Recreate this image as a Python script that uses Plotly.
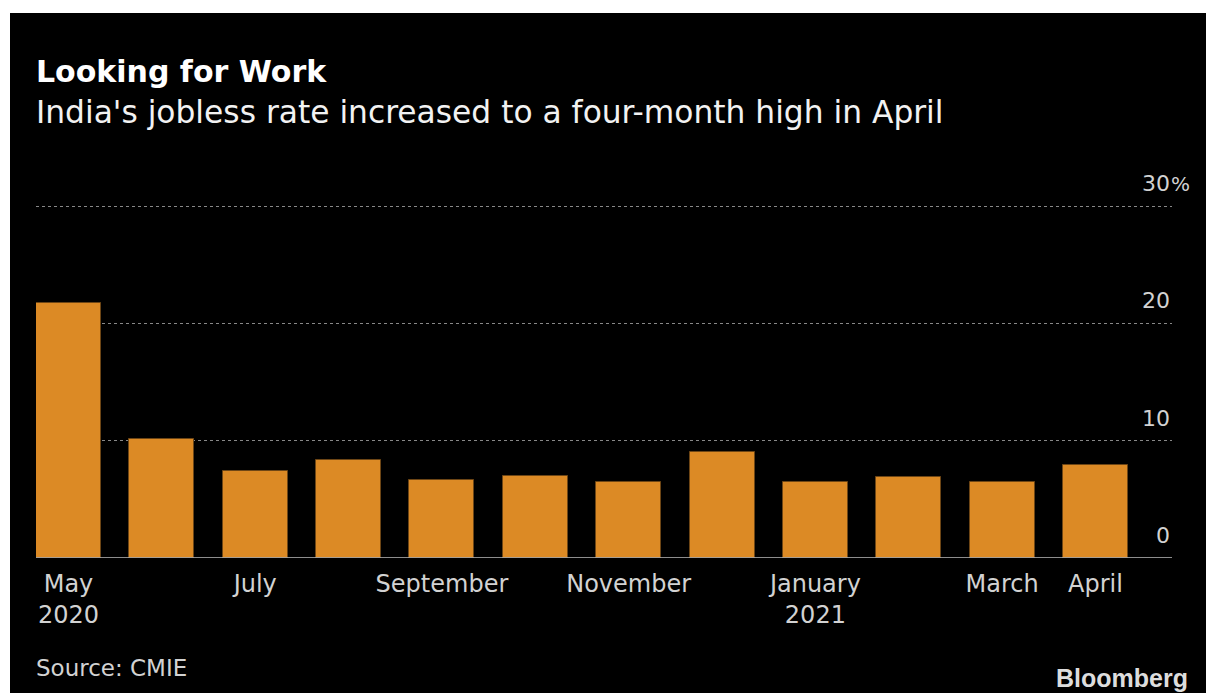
import plotly.graph_objects as go

# Monthly unemployment rate in India (%), May 2020 - April 2021
months = ["May 2020", "Jun 2020", "Jul 2020", "Aug 2020", "Sep 2020", "Oct 2020",
          "Nov 2020", "Dec 2020", "Jan 2021", "Feb 2021", "Mar 2021", "Apr 2021"]
jobless_rate = [21.73, 10.18, 7.40, 8.35, 6.67, 6.98, 6.50, 9.06, 6.52, 6.89, 6.50, 7.97]

tick_positions = [0, 2, 4, 6, 8, 10, 11]
tick_labels = ["May<br>2020", "July", "September", "November", "January<br>2021", "March", "April"]

y_ticks = [0, 10, 20, 30]
y_tick_labels = ["0", "10", "20", "30"]

W, H = 1206, 693
M_L, M_R, M_T, M_B = 36, 34, 205, 135
PLOT_W = W - M_L - M_R
PLOT_H = H - M_T - M_B


def px_x(px):
    return (px - M_L) / PLOT_W


def px_y(py):
    return (H - M_B - py) / PLOT_H


FONT = "DejaVu Sans"
LABEL_GREY = "#d2d2d2"

fig = go.Figure(
    go.Bar(
        x=list(range(len(months))),
        y=jobless_rate,
        width=0.696,
        marker=dict(color="#dc8a25", line=dict(color="#6e4615", width=1)),
        hoverinfo="y",
    )
)

annotations = [
    dict(text="<b>Looking for Work</b>", x=px_x(34), y=px_y(71), xanchor="left", yanchor="middle",
         font=dict(family=FONT, size=30, color="#ffffff")),
    dict(text="India's jobless rate increased to a four-month high in April", x=px_x(34), y=px_y(112),
         xanchor="left", yanchor="middle", font=dict(family=FONT, size=31.3, color="#f2f2f2")),
    dict(text="Source: CMIE", x=px_x(34), y=px_y(668), xanchor="left", yanchor="middle",
         font=dict(family=FONT, size=23, color=LABEL_GREY)),
    dict(text="<b>Bloomberg</b>", x=px_x(1190), y=px_y(678), xanchor="right", yanchor="middle",
         font=dict(family="Liberation Sans", size=25, color="#dddddd")),
]

# Value labels sit just above each gridline, right-aligned to the plot edge
for val, lab in zip(y_ticks, y_tick_labels):
    annotations.append(dict(text=lab, xref="paper", yref="y", x=1, y=val, xanchor="right",
                            yanchor="bottom", yshift=8, showarrow=False,
                            font=dict(family=FONT, size=22, color=LABEL_GREY)))
annotations.append(dict(text="%", xref="paper", yref="y", x=1, y=30, xanchor="left",
                        yanchor="bottom", yshift=8, xshift=-3, showarrow=False,
                        font=dict(family=FONT, size=20, color=LABEL_GREY)))

for a in annotations:
    a.setdefault("xref", "paper")
    a.setdefault("yref", "paper")
    a.setdefault("showarrow", False)

shapes = [
    # dark panel with a thin white border on the top and left
    dict(type="rect", xref="paper", yref="paper", x0=px_x(10), x1=px_x(W + 5),
         y0=px_y(H + 5), y1=px_y(13), fillcolor="#000000", line=dict(width=0), layer="below"),
    # baseline at zero
    dict(type="line", xref="paper", yref="y", x0=0, x1=1, y0=0, y1=0,
         line=dict(color="#bdbdbd", width=1.5)),
]

fig.update_layout(
    width=W, height=H,
    margin=dict(l=M_L, r=M_R, t=M_T, b=M_B),
    paper_bgcolor="#ffffff",
    plot_bgcolor="#000000",
    showlegend=False,
    bargap=0,
    annotations=annotations,
    shapes=shapes,
    xaxis=dict(
        range=[-0.348, 11.82],
        tickvals=tick_positions,
        ticktext=tick_labels,
        showgrid=False, zeroline=False, showline=False, ticks="",
        ticklabelstandoff=9,
        tickfont=dict(family=FONT, size=24, color=LABEL_GREY),
        fixedrange=True,
    ),
    yaxis=dict(
        range=[0, 30.1],
        tickvals=[10, 20, 30],
        showticklabels=False,
        showgrid=True, gridcolor="#888888", gridwidth=1, griddash="dot",
        zeroline=False, showline=False, ticks="",
        fixedrange=True,
    ),
)

fig.write_html("out.html", config={"displayModeBar": False})
